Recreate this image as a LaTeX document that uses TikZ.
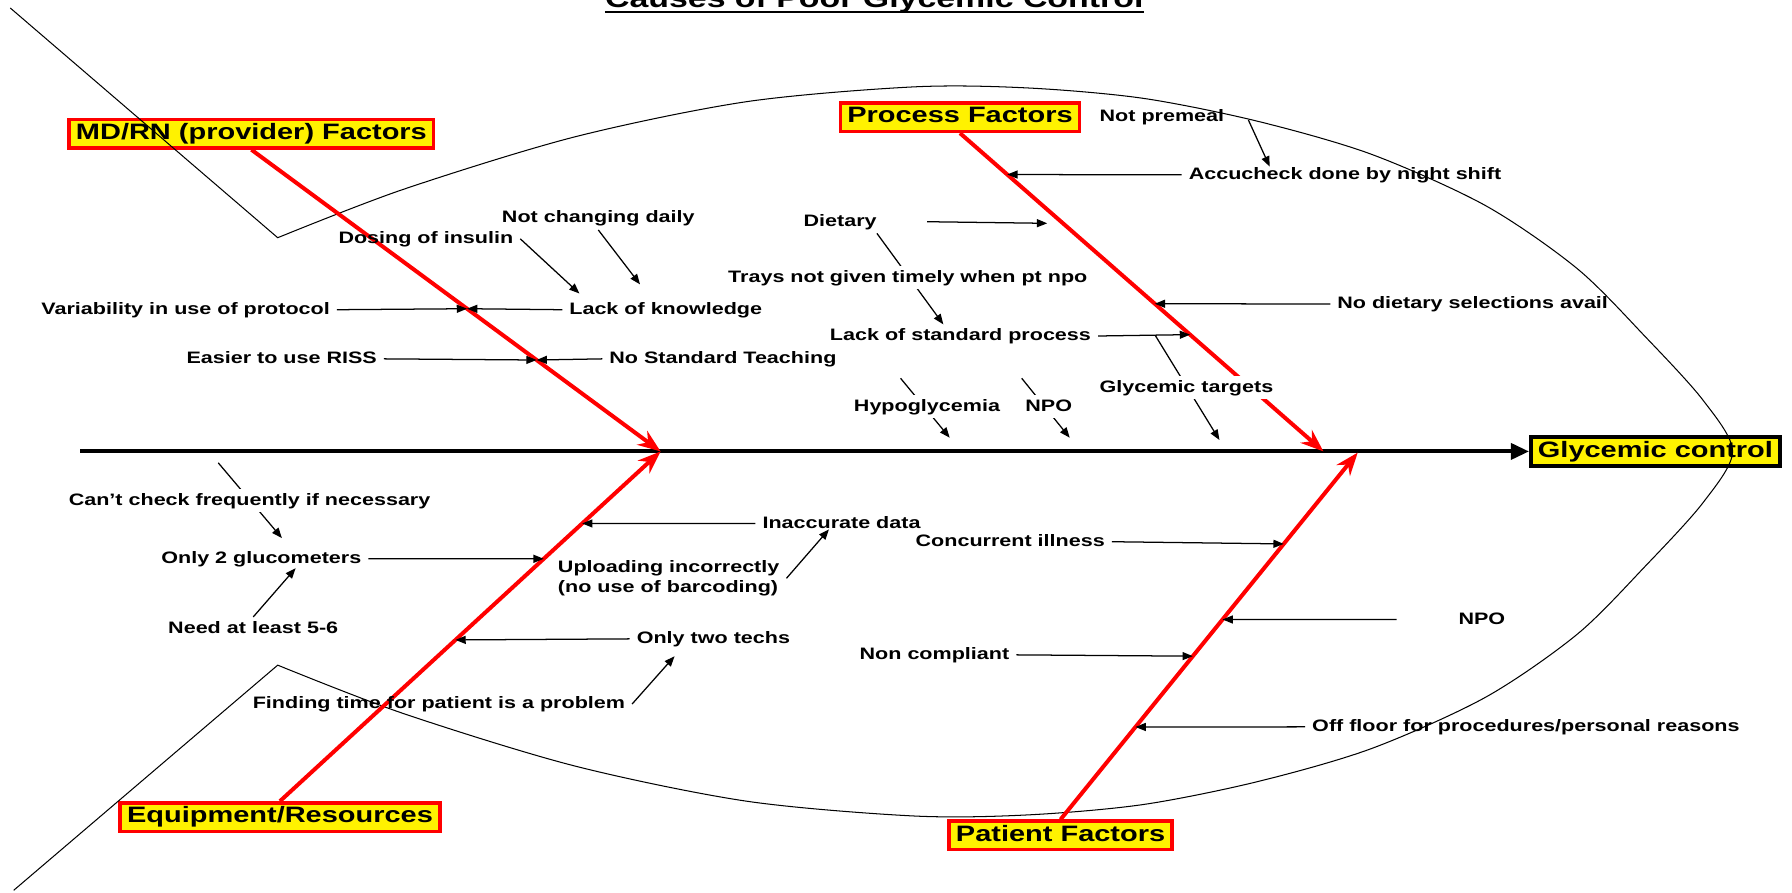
\documentclass[tikz,border=0pt]{standalone}
\usepackage{fontspec}
\setmainfont[FakeStretch=1.3]{Liberation Sans}
\usetikzlibrary{arrows.meta}
\newcommand\lblfont{\fontsize{14.5}{18}\selectfont\bfseries}
\newcommand\catfont{\fontsize{19.5}{22}\selectfont\bfseries}
\newcommand\ttlfont{\fontsize{22.8}{26}\selectfont\bfseries}

\begin{document}
\begin{tikzpicture}[x=1pt,y=-1pt,>={Triangle[length=9pt,width=7pt]},
  txt/.style={font=\lblfont,inner xsep=6pt,inner ysep=3pt,anchor=west},
  lbl/.style={txt,text height=11pt,text depth=3pt},
  cat/.style={font=\catfont,draw=red,fill=yellow,line width=3pt,inner xsep=6pt,inner ysep=3.5pt,text height=14pt,text depth=4pt},
  cause/.style={->,line width=1.1pt},
  bone/.style={red,line width=3.5pt,-{Stealth[length=20pt,width=15pt]}},
  spine/.style={line width=3.5pt,-{Triangle[length=16pt,width=14pt]}},
  fish/.style={line width=0.9pt}]
\useasboundingbox (0,0) rectangle (1568,781);
\clip (0,0) rectangle (1568,781);

\node[font=\ttlfont,anchor=base,inner sep=0pt] (ttl) at (765,7) {Causes of Poor Glycemic Control};
\draw[line width=1.6pt] ([yshift=-3.5pt]ttl.base west) -- ([yshift=-3.5pt]ttl.base east);

\node[cat] (mdrn) at (220,117) {MD/RN (provider) Factors};
\node[cat] (proc) at (840,102.5) {Process Factors};
\node[cat] (equip) at (245,715) {Equipment/Resources};
\node[cat] (pat) at (928,731) {Patient Factors};
\node[cat,draw=black,line width=3.5pt] (goal) at (1448.5,395) {Glycemic control};

\draw[fish] (9,7) -- plot[smooth] coordinates {(243,208) (352,166) (502,120) (653,89) (800,76)
  (900,77) (1000,86) (1100,106) (1200,135) (1300,180) (1380,235) (1440,295) (1490,350) (1516,395)
  (1490,440) (1440,495) (1380,555) (1300,610) (1200,655) (1100,684) (1000,704) (900,713)
  (800,714) (653,701) (502,670) (352,624) (243,582)} -- (12,779);

\coordinate (tail) at (70,395);
\coordinate (hubL) at (578,395);
\coordinate (hubP) at (1158,395);
\coordinate (hubQ) at (1188,396);

\draw[spine] (tail) -- (goal.west);
\draw[bone] (mdrn.south) -- coordinate[pos=.527] (b1) coordinate[pos=.697] (b2) (hubL);
\draw[bone] (proc.south) -- coordinate[pos=.13] (p0) coordinate[pos=.284] (p1)
  coordinate[pos=.536] (p4) coordinate[pos=.633] (p5) (hubP);
\draw[bone] (equip.north) -- coordinate[pos=.461] (e3) coordinate[pos=.693] (e2)
  coordinate[pos=.794] (e1) (hubL);
\draw[bone] (pat.north) -- coordinate[pos=.252] (q4) coordinate[pos=.445] (q3)
  coordinate[pos=.545] (q2) coordinate[pos=.751] (q1) (hubQ);

\node[lbl] (notchg) at (433,191) {Not changing daily};
\node[lbl] (dosing) at (290,209) {Dosing of insulin};
\node[lbl] (knowl) at (492,271) {Lack of knowledge};
\node[lbl] (var) at (30,271) {Variability in use of protocol};
\node[lbl] (riss) at (157,314) {Easier to use RISS};
\node[lbl] (teach) at (527,314) {No Standard Teaching};
\node[lbl] (diet) at (697,194) {Dietary};
\node[lbl] (lsp) at (720,294) {Lack of standard process};
\node[lbl] (nodiet) at (1164,266) {No dietary selections avail};
\node[lbl] (premeal) at (956,102) {Not premeal};
\node[lbl] (accu) at (1034,153) {Accucheck done by night shift};
\node[lbl] (glu) at (135,489) {Only 2 glucometers};
\node[lbl] (need) at (141,550) {Need at least 5-6};
\node[lbl] (inacc) at (661,458) {Inaccurate data};
\node[txt,align=left] (upload) at (482,506) {Uploading incorrectly\\(no use of barcoding)};
\node[lbl] (techs) at (551,559) {Only two techs};
\node[lbl] (finding) at (215,616) {Finding time for patient is a problem};
\node[lbl] (conc) at (795,474) {Concurrent illness};
\node[lbl] (npoB) at (1270,542) {NPO};
\node[lbl] (noncomp) at (746,573) {Non compliant};
\node[lbl] (offfl) at (1142,636) {Off floor for procedures/personal reasons};

\coordinate (c0) at (191,405);
\coordinate (hy0) at (788,331);
\coordinate (hy1) at (831,383);
\coordinate (np0) at (894,331);
\coordinate (np1) at (936,383);
\coordinate (gt1) at (1067,385);

\draw[cause] (var.east) -- (b1);
\draw[cause] (knowl.west) -- (b1);
\draw[cause] (riss.east) -- (b2);
\draw[cause] (teach.west) -- (b2);
\draw[cause] (dosing.east) -- ([xshift=15pt,yshift=4pt]knowl.north west);
\draw[cause] (notchg.south) -- ([xshift=68pt,yshift=12pt]knowl.north west);
\draw[cause] ([xshift=15pt,yshift=-3pt]premeal.east) -- ([xshift=77pt,yshift=-3pt]accu.north west);
\draw[cause] (accu.west) -- (p0);
\draw[cause,shorten >=14pt] ([xshift=38pt]diet.east) -- (p1);
\draw[cause] ([xshift=-6pt]diet.south east) -- ([xshift=-15pt]lsp.north);
\draw[cause] (nodiet.west) -- (p4);
\draw[cause] (lsp.east) -- coordinate[pos=.62] (j1) (p5);
\draw[cause] (j1) -- (gt1);
\draw[cause] (hy0) -- (hy1);
\draw[cause] (np0) -- (np1);
\draw[cause] (c0) -- ([xshift=18pt,yshift=8pt]glu.north);
\draw[cause] (need.north) -- ([xshift=30pt,yshift=2pt]glu.south);
\draw[cause] (glu.east) -- (e2);
\draw[cause] (inacc.west) -- (e1);
\draw[cause] (upload.east) -- ([xshift=-11pt,yshift=5pt]inacc.south);
\draw[cause] (techs.west) -- (e3);
\draw[cause] (finding.east) -- ([xshift=-34pt,yshift=-5pt]techs.south);
\draw[cause] (conc.east) -- (q1);
\draw[cause] ([xshift=-48pt]npoB.west) -- (q2);
\draw[cause] (noncomp.east) -- (q3);
\draw[cause] (offfl.west) -- (q4);

\node[lbl,fill=white] (trays) at (631,243) {Trays not given timely when pt npo};
\node[lbl,fill=white] (gtarg) at (956,339) {Glycemic targets};
\node[lbl,fill=white] (hypo) at (741,356) {Hypoglycemia};
\node[lbl,fill=white] (npoA) at (891,356) {NPO};
\node[lbl,fill=white] (cant) at (54,438) {Can’t check frequently if necessary};
\end{tikzpicture}
\end{document}
